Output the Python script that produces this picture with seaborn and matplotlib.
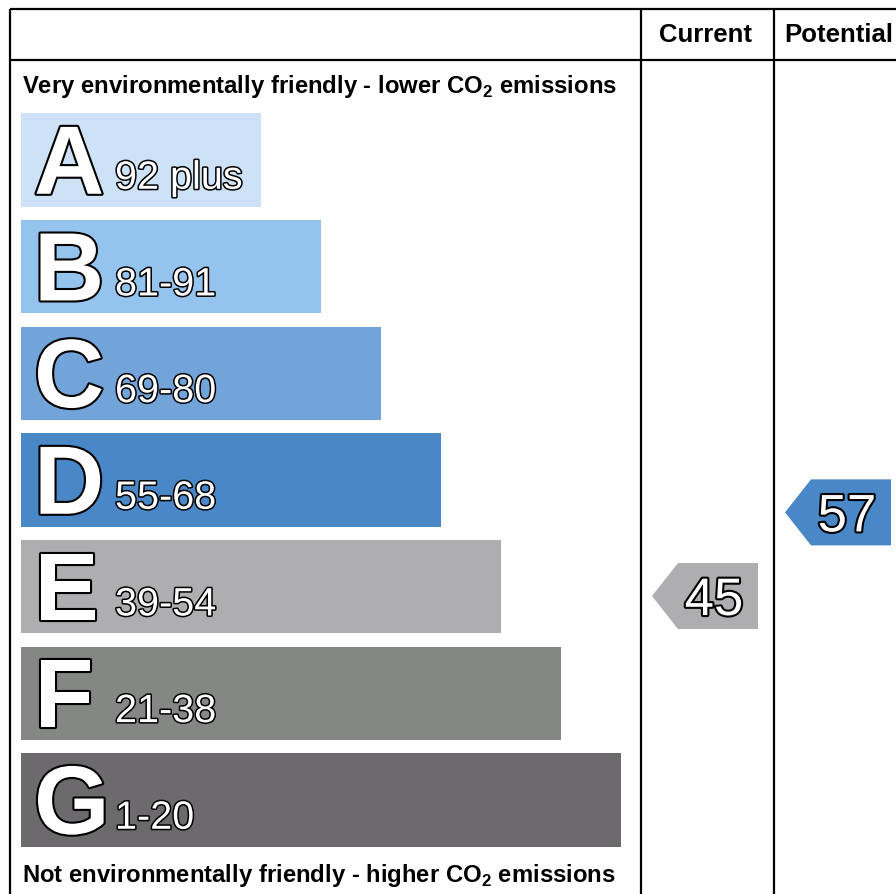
import matplotlib
matplotlib.use("Agg")
import matplotlib.pyplot as plt
import matplotlib.patheffects as pe
from matplotlib.patches import Polygon
import seaborn as sns
import pandas as pd

# ---- data ----
bands = ["A", "B", "C", "D", "E", "F", "G"]
band_ranges = ["92 plus", "81-91", "69-80", "55-68", "39-54", "21-38", "1-20"]
band_lo = [92, 81, 69, 55, 39, 21, 1]
band_hi = [100, 91, 80, 68, 54, 38, 20]
bar_length = [240, 300, 360, 420, 480, 540, 600]
band_colors = ["#cde2f7", "#94c3ee", "#72a4da", "#4a87c6", "#aeadb0", "#858785", "#6c6a6d"]
columns = ["Current", "Potential"]
scores = [45, 57]
top_text = r"Very environmentally friendly - lower CO$_\mathbf{2}$ emissions"
bottom_text = r"Not environmentally friendly - higher CO$_\mathbf{2}$ emissions"

plt.rcParams["font.family"] = ["Liberation Sans", "DejaVu Sans"]
plt.rcParams["mathtext.fontset"] = "custom"
plt.rcParams["mathtext.bf"] = "Liberation Sans:bold"
plt.rcParams["mathtext.rm"] = "Liberation Sans:bold"

W, H = 896, 895
fig = plt.figure(figsize=(W / 100, H / 100), dpi=100)
fig.patch.set_facecolor("white")

# overlay pixel axes for frame and headings
ax0 = fig.add_axes([0, 0, 1, 1])
ax0.set_xlim(0, W)
ax0.set_ylim(H, 0)
ax0.axis("off")

lw = 1.6
col_x = [10, 641, 774, 907]
for x in col_x:
    ax0.plot([x, x], [10, 910], color="black", lw=lw, solid_capstyle="butt")
for y in [10, 61]:
    ax0.plot([10, 907], [y, y], color="black", lw=lw, solid_capstyle="butt")

for i, c in enumerate(columns):
    ax0.text((col_x[i + 1] + col_x[i + 2]) / 2 - 2, 35, c, ha="center", va="center",
             fontsize=18.5, fontweight="bold")

ax0.text(22, 93, top_text, ha="left", va="baseline", fontsize=17.2, fontweight="bold")
ax0.text(22, 882, bottom_text, ha="left", va="baseline", fontsize=17.2, fontweight="bold")

# bar axes (1 x-unit = 1 px, categorical y)
pitch = (754 - 114) / 6
top_px = 161 - pitch / 2
bot_px = 801 + pitch / 2
axb = fig.add_axes([0, 1 - bot_px / H, 1, (bot_px - top_px) / H])
axb.patch.set_alpha(0)
bw = 0.877
df = pd.DataFrame({"band": bands, "length": bar_length})
sns.barplot(data=df, x="length", y="band", hue="band", palette=band_colors,
            orient="h", width=bw, saturation=1, legend=False, ax=axb, edgecolor="none")
axb.set_xlim(-21, W - 21)
axb.set_ylim(len(bands) - 0.5, -0.5)
axb.axis("off")

px2pt = 0.72
for i, (b, r) in enumerate(zip(bands, band_ranges)):
    ybot = i + bw / 2
    axb.annotate(b, xy=(13, ybot), xytext=(0, 13 * px2pt), textcoords="offset points",
                 ha="left", va="baseline", fontsize=70, fontweight="bold", color="white",
                 path_effects=[pe.Stroke(linewidth=3, foreground="black"), pe.Normal()])
    axb.annotate(r, xy=(94, ybot), xytext=(0, 18 * px2pt), textcoords="offset points",
                 ha="left", va="baseline", fontsize=28.5, color="white",
                 path_effects=[pe.Stroke(linewidth=2.2, foreground="black"), pe.Normal()])

# arrows
half = 33 / pitch
for k, s in enumerate(scores):
    i = next(j for j in range(len(bands)) if band_lo[j] <= s <= band_hi[j])
    frac = (band_hi[i] - s) / (band_hi[i] - band_lo[i])
    yc = i - bw / 2 + frac * bw
    x0 = col_x[k + 1] + 11 - 21
    tip, left, right = x0, x0 + 26, x0 + 106
    poly = Polygon([(tip, yc), (left, yc - half), (right, yc - half), (right, yc + half),
                    (left, yc + half)], closed=True, facecolor=band_colors[i], edgecolor="none")
    axb.add_patch(poly)
    axb.annotate(str(s), xy=((left + right) / 2 - 4, yc), xytext=(0, -19 * px2pt),
                 textcoords="offset points", ha="center", va="baseline", fontsize=38,
                 color="white",
                 path_effects=[pe.Stroke(linewidth=3, foreground="black"), pe.Normal()])

fig.savefig("out.png", dpi=100)
